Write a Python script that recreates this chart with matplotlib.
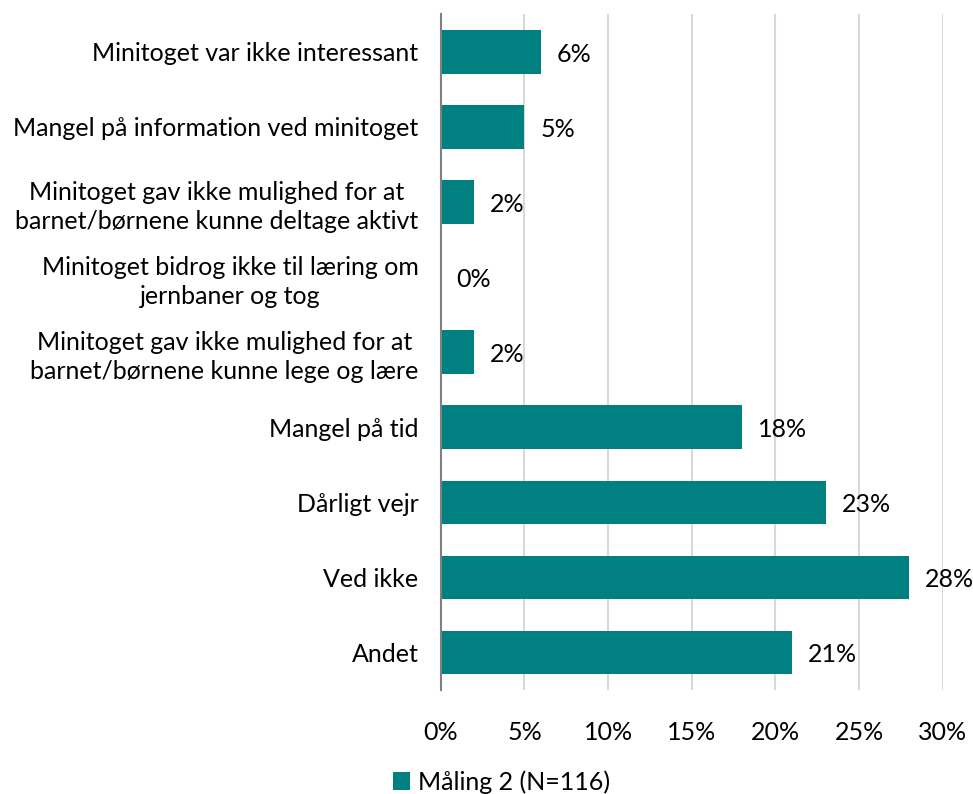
#horizontal bar chart of reasons (Måling 2)

import matplotlib.pyplot as plt
from matplotlib.ticker import PercentFormatter

plt.rcParams['font.family'] = ['Lato', 'DejaVu Sans']

#data
categories = [
    "Minitoget var ikke interessant",
    "Mangel på information ved minitoget",
    "Minitoget gav ikke mulighed for at\nbarnet/børnene kunne deltage aktivt",
    "Minitoget bidrog ikke til læring om\njernbaner og tog",
    "Minitoget gav ikke mulighed for at\nbarnet/børnene kunne lege og lære",
    "Mangel på tid",
    "Dårligt vejr",
    "Ved ikke",
    "Andet",
]
values = [6, 5, 2, 0, 2, 18, 23, 28, 21]
series_name = "Måling 2 (N=116)"
xticks = [0, 5, 10, 15, 20, 25, 30]

color = "#008080"
fs = 18

#create figure
fig = plt.figure(figsize=(9.73, 7.94), dpi=100)
ax = fig.add_axes([0.453, 0.131, 0.516, 0.851])

pos = list(range(len(categories)))
ax.barh(pos, values, height=0.58, color=color, label=series_name, zorder=3)

#value labels
for p, v in zip(pos, values):
    ax.text(v + 0.95, p + 0.03, f"{v}%", va="center", ha="left", fontsize=fs, color="black")

ax.set_ylim(len(categories) - 0.5, -0.5)
ax.set_xlim(0, 30)
ax.set_yticks(pos)
ax.set_yticklabels(categories, fontsize=fs, ha="right", multialignment="center",
                   linespacing=1.3)
ax.set_xticks(xticks)
ax.xaxis.set_major_formatter(PercentFormatter(decimals=0))
ax.tick_params(axis="x", labelsize=fs, length=0, pad=22)
ax.tick_params(axis="y", length=0, pad=16)

#grid and spines
ax.grid(axis="x", color="#d9d9d9", linewidth=1.5, zorder=0)
for s in ["top", "right", "bottom"]:
    ax.spines[s].set_visible(False)
ax.spines["left"].set_color("#808080")
ax.spines["left"].set_linewidth(1.5)
ax.spines["left"].set_zorder(4)

#legend
fig.legend(loc="lower center", bbox_to_anchor=(0.515, -0.028), frameon=False,
           fontsize=fs, handlelength=0.7, handleheight=0.7, handletextpad=0.3)

fig.savefig("out.png")
